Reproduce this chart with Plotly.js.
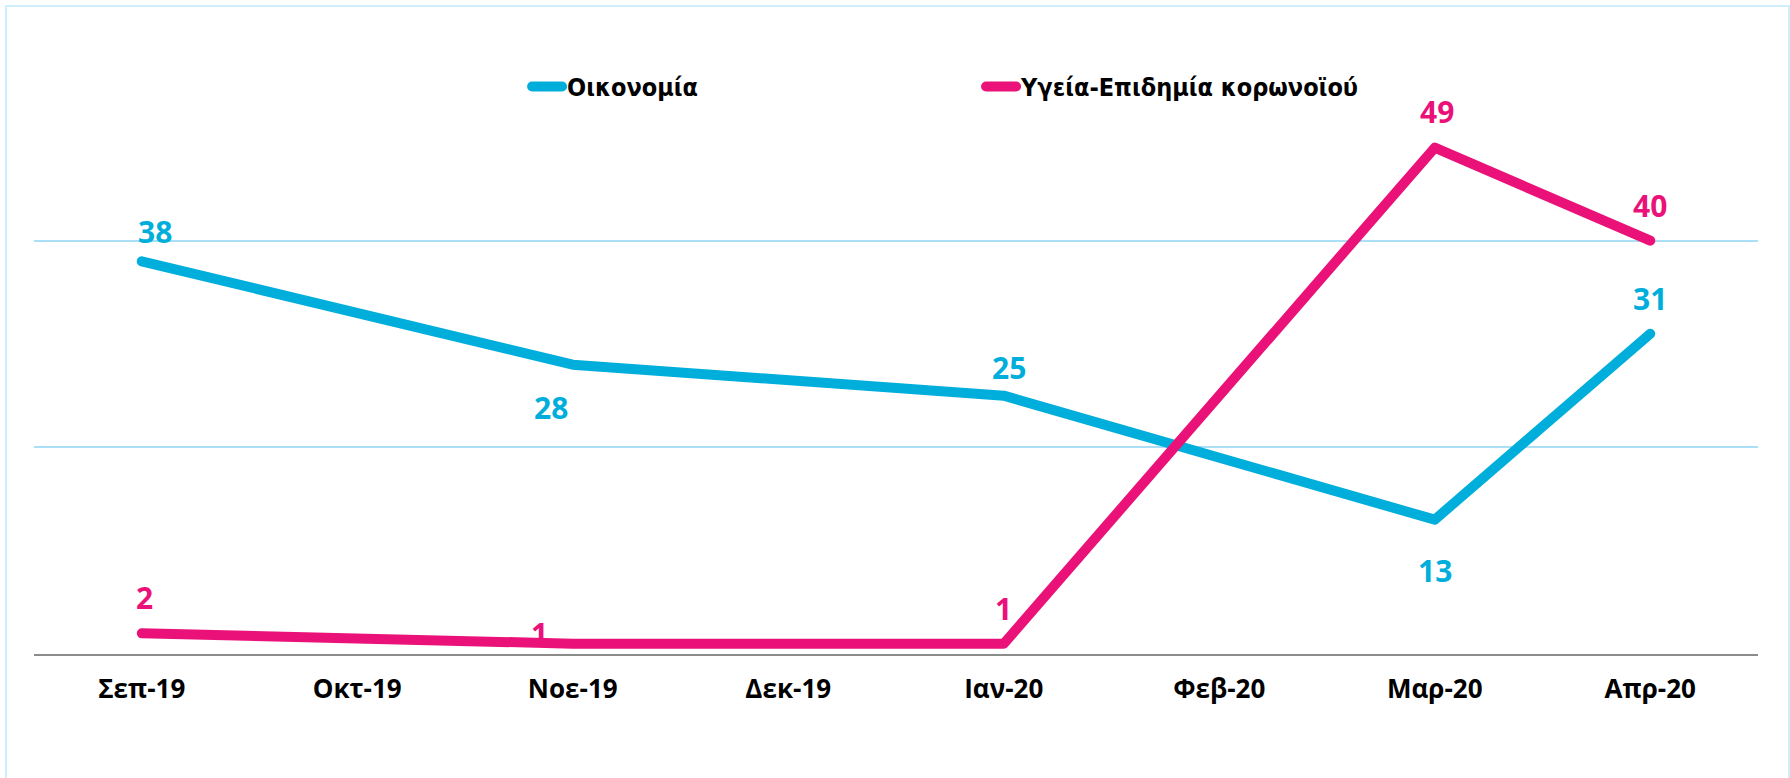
<!DOCTYPE html>
<html><head><meta charset="utf-8">
<script src="https://cdn.plot.ly/plotly-3.0.1.min.js"></script>
<style>
html,body{margin:0;padding:0;background:#fff;}
#wrap{position:relative;width:1790px;height:778px;overflow:hidden;}
#chart{width:1790px;height:778px;}
#frame{position:absolute;left:5px;top:5px;width:1781px;height:800px;border:2px solid #cdeffc;border-bottom:none;pointer-events:none;}
.js-line{stroke-linejoin:round;stroke-linecap:round;}
</style></head><body>
<div id="wrap"><div id="chart"></div><div id="frame"></div></div>
<script>
// ---- data ----
const months = ['Σεπ-19','Οκτ-19','Νοε-19','Δεκ-19','Ιαν-20','Φεβ-20','Μαρ-20','Απρ-20'];
const economyName = 'Οικονομία';
const economy = [38, null, 28, null, 25, null, 13, 31];
const healthName = 'Υγεία-Επιδημία κορωνοϊού';
const health = [2, null, 1, null, 1, null, 49, 40];

// ---- styles (label placement, px) ----
const economyColor = '#00AEDB';
const healthColor = '#EA1279';
const economyLabelDy = [30, 0, -43, 0, 28, 0, -51, 35];
const economyLabelDx = [13, 0, -22, 0, 5, 0, 0, 0];
const healthLabelDy = [36, 0, 10, 0, 35, 0, 36, 35];
const healthLabelDx = [3, 0, -33, 0, 0, 0, 2, 0];

const labelFont = {family: 'Open Sans, DejaVu Sans, sans-serif', size: 30, weight: 700};

function labels(vals, color, dx, dy) {
  const out = [];
  vals.forEach((v, i) => {
    if (v === null) return;
    out.push({x: months[i], y: v, xref: 'x', yref: 'y', text: String(v), showarrow: false,
      xanchor: 'center', yanchor: 'middle', xshift: dx[i], yshift: dy[i],
      font: Object.assign({color: color}, labelFont)});
  });
  return out;
}

const traces = [
  {type: 'scatter', mode: 'lines', name: economyName, x: months, y: economy, connectgaps: true,
   line: {color: economyColor, width: 10}, hoverinfo: 'x+y'},
  {type: 'scatter', mode: 'lines', name: healthName, x: months, y: health, connectgaps: true,
   line: {color: healthColor, width: 10}, hoverinfo: 'x+y'}
];

const layout = {
  width: 1790, height: 778,
  margin: {l: 34, r: 32, t: 34, b: 124, pad: 0},
  paper_bgcolor: '#ffffff', plot_bgcolor: '#ffffff',
  showlegend: true,
  legend: {orientation: 'h', x: 0.286, xanchor: 'left', y: 0.915, yanchor: 'middle',
    bgcolor: 'rgba(0,0,0,0)', borderwidth: 0, entrywidth: 409, entrywidthmode: 'pixels',
    font: {family: 'DejaVu Sans Condensed, DejaVu Sans, sans-serif', size: 25, weight: 700, color: '#000'}},
  xaxis: {type: 'category', categoryorder: 'array', categoryarray: months,
    range: [-0.5, months.length - 0.5], autorange: false,
    showline: true, linecolor: '#8c8c8c', linewidth: 2, showgrid: false, zeroline: false,
    ticks: '', ticklabelstandoff: 11,
    tickfont: {family: 'Open Sans, DejaVu Sans, sans-serif', size: 26, weight: 700, color: '#000'}},
  yaxis: {range: [0, 60], tick0: 0, dtick: 20, showticklabels: false, ticks: '',
    showgrid: true, gridcolor: '#aadff6', gridwidth: 2, zeroline: false, showline: false},
  annotations: labels(economy, economyColor, economyLabelDx, economyLabelDy)
    .concat(labels(health, healthColor, healthLabelDx, healthLabelDy))
};

Plotly.newPlot('chart', traces, layout, {displayModeBar: false, staticPlot: true});
</script>
</body></html>
